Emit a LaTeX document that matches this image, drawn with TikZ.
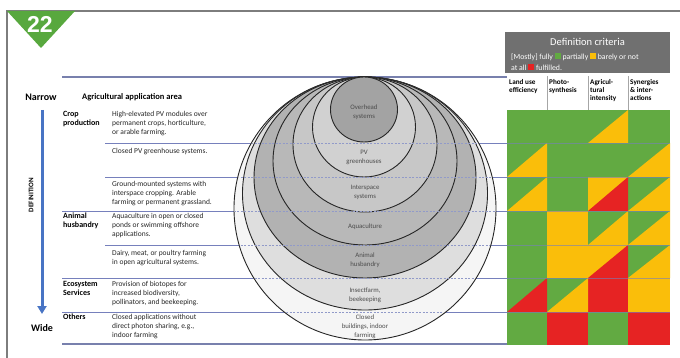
\documentclass[tikz,border=0pt]{standalone}
\usepackage{fontspec}
\setmainfont{Carlito}
\newfontfamily\badgefont{Liberation Sans}
\usepackage{tikz}
\usetikzlibrary{arrows.meta,positioning}
\definecolor{agrigreen}{RGB}{98,170,66}
\definecolor{agriyellow}{RGB}{250,190,10}
\definecolor{agrired}{RGB}{230,35,35}
\definecolor{headgray}{RGB}{112,112,112}
\definecolor{framegray}{RGB}{125,125,125}
\definecolor{rowblue}{RGB}{118,128,188}
\definecolor{arrowblue}{RGB}{72,116,196}
\definecolor{badgegreen}{RGB}{88,168,62}

\begin{document}
\begin{tikzpicture}[
    x=1pt, y=-1pt,
    rowline/.style={rowblue, line width=0.8pt},
    edgeline/.style={rowblue!75!gray, line width=1.6pt},
    dashrow/.style={rowblue!80!white, line width=0.7pt, dash pattern=on 2pt off 1.5pt},
    ring/.style={draw=black!85, line width=0.9pt},
    ringlabel/.style={font=\fontsize{6.8}{9}\selectfont, align=center, text=black!70, inner sep=0pt},
    desc/.style={anchor=north west, font=\fontsize{7.5}{8.8}\selectfont, align=left, inner sep=0pt, text=black!85},
    cat/.style={anchor=north west, font=\fontsize{8}{8.8}\selectfont\bfseries, align=left, inner sep=0pt},
    colhead/.style={anchor=north west, font=\fontsize{7.2}{8.2}\selectfont\bfseries, align=left, inner sep=0pt},
    legend/.style={anchor=west, font=\fontsize{7.8}{9}\selectfont, text=white, inner sep=0pt},
    defarrow/.style={-{Triangle[length=8pt,width=9pt]}, arrowblue, line width=3pt}
]
    \useasboundingbox (0,0) rectangle (680,358);

    % frame and badge
    \draw[framegray, line width=1.5pt] (7,358) -- (7,11) -- (680,11);
    \fill[badgegreen] (7,11) -- (75,11) -- (41,48) -- cycle;
    \node[text=white, font=\badgefont\fontsize{23}{23}\selectfont\bfseries] (badge) at (40,24) {22};

    % row rules
    \draw[edgeline] (62,77) -- (507,77);
    \draw[rowline] (105,143) -- (670,143);
    \draw[rowline] (105,177) -- (670,177);
    \draw[rowline] (62,211) -- (670,211);
    \draw[rowline] (105,245) -- (670,245);
    \draw[rowline] (62,278) -- (670,278);
    \draw[rowline] (62,312) -- (670,312);
    \draw[edgeline] (62,344) -- (507,344);

    % nested circles
    \draw[ring, fill=black!4] (365,208.5) ellipse [x radius=131pt, y radius=131.5pt];
    \draw[ring, fill=black!13] (365,193.5) ellipse [x radius=122.5pt, y radius=116.5pt];
    \draw[ring, fill=black!30] (365,177.5) ellipse [x radius=111pt, y radius=100.5pt];
    \draw[ring, fill=black!28] (365,161) ellipse [x radius=92pt, y radius=84pt];
    \draw[ring, fill=black!22] (365,144.5) ellipse [x radius=72pt, y radius=67.5pt];
    \draw[ring, fill=black!18] (364,127) ellipse [x radius=51.5pt, y radius=50pt];
    \draw[ring, fill=black!36] (364,109.5) ellipse [x radius=33.5pt, y radius=32.5pt];

    \begin{scope}
        \clip (365,208.5) ellipse [x radius=130pt, y radius=130.5pt];
        \draw[dashrow] (230,143) -- (500,143);
        \draw[dashrow] (230,177) -- (500,177);
        \draw[dashrow] (230,211) -- (500,211);
        \draw[dashrow] (230,245) -- (500,245);
        \draw[dashrow] (230,278) -- (500,278);
        \draw[dashrow] (230,312) -- (500,312);
    \end{scope}

    \node[ringlabel] (overhead) at (364,112) {Overhead\\systems};
    \node[ringlabel] (greenhouse) at (364,157) {PV\\greenhouses};
    \node[ringlabel] (interspace) at (365,192) {Interspace\\systems};
    \node[ringlabel] (aqua) at (365,227) {Aquaculture};
    \node[ringlabel] (animal) at (365,260) {Animal\\husbandry};
    \node[ringlabel] (insect) at (365,295) {Insectfarm,\\beekeeping};
    \node[ringlabel] (closed) at (365,327) {Closed\\buildings, indoor\\farming};

    % criteria table
    \fill[agrigreen] (507,110) rectangle (670,345);
    \fill[agriyellow] (547,211) rectangle (588,278);
    \fill[agriyellow] (588,177) rectangle (628,211);
    \fill[agriyellow] (588,245) rectangle (628,278);
    \fill[agriyellow] (628,278) rectangle (670,312);
    \fill[agrired] (588,278) rectangle (628,312);
    \fill[agrired] (547,312) rectangle (588,345);
    \fill[agrired] (628,312) rectangle (670,345);
    \fill[agriyellow] (588,143) -- (628,143) -- (628,110) -- cycle;
    \fill[agriyellow] (507,177) -- (547,177) -- (547,143) -- cycle;
    \fill[agriyellow] (628,177) -- (670,177) -- (670,143) -- cycle;
    \fill[agriyellow] (507,211) -- (547,211) -- (547,177) -- cycle;
    \fill[agrired] (588,211) -- (628,211) -- (628,177) -- cycle;
    \fill[agriyellow] (628,211) -- (670,211) -- (670,177) -- cycle;
    \fill[agriyellow] (588,245) -- (628,245) -- (628,211) -- cycle;
    \fill[agriyellow] (628,245) -- (670,245) -- (670,211) -- cycle;
    \fill[agrired] (588,278) -- (628,278) -- (628,245) -- cycle;
    \fill[agriyellow] (628,278) -- (670,278) -- (670,245) -- cycle;
    \fill[agrired] (507,312) -- (547,312) -- (547,278) -- cycle;
    \fill[agriyellow] (547,312) -- (588,312) -- (588,278) -- cycle;
    \draw[rowline, line width=0.5pt, opacity=0.6] (507,143) -- (670,143);
    \draw[rowline, line width=0.5pt, opacity=0.6] (507,177) -- (670,177);
    \draw[rowline, line width=0.5pt, opacity=0.6] (507,211) -- (670,211);
    \draw[rowline, line width=0.5pt, opacity=0.6] (507,245) -- (670,245);
    \draw[rowline, line width=0.5pt, opacity=0.6] (507,278) -- (670,278);
    \draw[rowline, line width=0.5pt, opacity=0.6] (507,312) -- (670,312);

    % header
    \node[fill=headgray, minimum width=165pt, minimum height=41pt, inner sep=0pt] (crit) at (587.5,52.5) {};
    \node[text=white, font=\fontsize{10.5}{12}\selectfont] (crittitle) at (587.5,42) {Definition criteria};
    \node[legend] (legendA) at (511,57) {[Mostly] fully {\color{agrigreen}\rule{6pt}{6pt}} partially {\color{agriyellow}\rule{6pt}{6pt}} barely or not};
    \node[legend] (legendB) at (511,67.5) {at all {\color{agrired}\rule{6pt}{6pt}} fulfilled.};
    \draw[black!35, line width=0.4pt] (547,76) -- (547,110);
    \draw[black!35, line width=0.4pt] (588,76) -- (588,110);
    \draw[black!35, line width=0.4pt] (628,76) -- (628,110);
    \node[colhead] (landuse) at (509,79) {Land use\\efficiency};
    \node[colhead] (photo) at (549,79) {Photo-\\synthesis};
    \node[colhead] (intens) at (590,79) {Agricul-\\tural\\intensity};
    \node[colhead] (synerg) at (630,79) {Synergies\\\& inter-\\actions};

    % left side
    \node[font=\fontsize{10}{11}\selectfont\bfseries] (narrow) at (41,97) {Narrow};
    \node[anchor=west, font=\fontsize{8.5}{10}\selectfont\bfseries, inner sep=0pt] (area) at (82,97) {Agricultural application area};
    \coordinate (dtop) at (42,110);
    \coordinate (dbot) at (42,314);
    \draw[defarrow] (dtop) -- (dbot);
    \node[rotate=90, font=\fontsize{7}{8}\selectfont\bfseries] (defn) at (31,195) {DEFINITION};
    \node[below=10pt of dbot, font=\fontsize{10}{11}\selectfont\bfseries, inner sep=0pt] (wide) {Wide};

    \node[cat] (crop) at (63,111) {Crop\\production};
    \node[cat] (husb) at (63,213) {Animal\\husbandry};
    \node[cat] (eco) at (63,281) {Ecosystem\\Services};
    \node[cat] (others) at (63,314) {Others};

    \node[desc] (d1) at (112,111) {High-elevated PV modules over\\permanent crops, horticulture,\\or arable farming.};
    \node[desc] (d2) at (112,148) {Closed PV greenhouse systems.};
    \node[desc] (d3) at (112,181) {Ground-mounted systems with\\interspace cropping. Arable\\farming or permanent grassland.};
    \node[desc] (d4) at (112,213) {Aquaculture in open or closed\\ponds or swimming offshore\\applications.};
    \node[desc] (d5) at (112,250) {Dairy, meat, or poultry farming\\in open agricultural systems.};
    \node[desc] (d6) at (112,281) {Provision of biotopes for\\increased biodiversity,\\pollinators, and beekeeping.};
    \node[desc] (d7) at (112,314) {Closed applications without\\direct photon sharing, e.g.,\\indoor farming};
\end{tikzpicture}
\end{document}
